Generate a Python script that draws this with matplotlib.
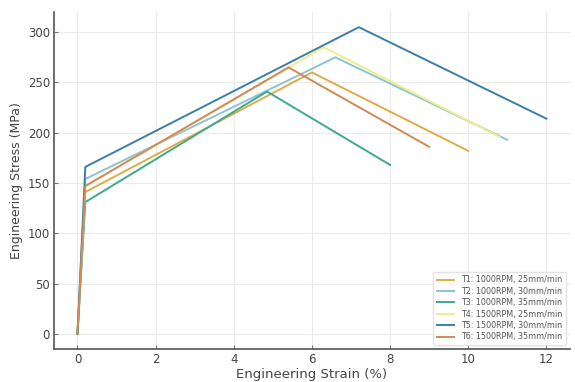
import matplotlib
matplotlib.use("Agg")
import matplotlib.pyplot as plt

labels = ["T1: 1000RPM, 25mm/min", "T2: 1000RPM, 30mm/min", "T3: 1000RPM, 35mm/min",
          "T4: 1500RPM, 25mm/min", "T5: 1500RPM, 30mm/min", "T6: 1500RPM, 35mm/min"]
colors = ["#e0ac45", "#8cc3d6", "#3fa891", "#ecec90", "#3c7fa6", "#cf8a55"]

yield_strain = [0.2, 0.2, 0.2, 0.2, 0.2, 0.2]
yield_stress = [141, 154, 131, 147, 166, 147]
peak_strain = [6.0, 6.6, 4.85, 6.3, 7.2, 5.4]
peak_stress = [260, 275, 241, 285, 305, 265]
end_strain = [10.0, 11.0, 8.0, 10.8, 12.0, 9.0]
end_stress = [182, 193, 168, 196, 214, 186]

fig = plt.figure(figsize=(5.75, 3.82), dpi=100)
ax = fig.add_axes([0.094, 0.086, 0.897, 0.883])

for i in range(6):
    xs = [0, yield_strain[i], peak_strain[i], end_strain[i]]
    ys = [0, yield_stress[i], peak_stress[i], end_stress[i]]
    ax.plot(xs, ys, color=colors[i], lw=1.4, label=labels[i])

ax.set_xticks([0, 2, 4, 6, 8, 10, 12])
ax.set_yticks([0, 50, 100, 150, 200, 250, 300])
ax.grid(True, color="#ebebeb", lw=0.8)
ax.set_axisbelow(True)
for s in ["top", "right"]:
    ax.spines[s].set_visible(False)
for s in ["left", "bottom"]:
    ax.spines[s].set_color("#555555")
    ax.spines[s].set_linewidth(1.2)
ax.tick_params(colors="#777777", labelsize=8.5, labelcolor="#444444", length=3,
               direction="in", pad=3)
ax.set_xlabel("Engineering Strain (%)", fontsize=9.5, color="#444444", labelpad=1)
ax.set_ylabel("Engineering Stress (MPa)", fontsize=9, color="#444444", labelpad=3)
leg = ax.legend(loc="lower right", fontsize=5.8, frameon=True, handlelength=2.2,
                labelspacing=0.3, borderpad=0.45)
leg.get_frame().set_edgecolor("#dddddd")
for t in leg.get_texts():
    t.set_color("#555555")

fig.savefig("out.png", dpi=100)
